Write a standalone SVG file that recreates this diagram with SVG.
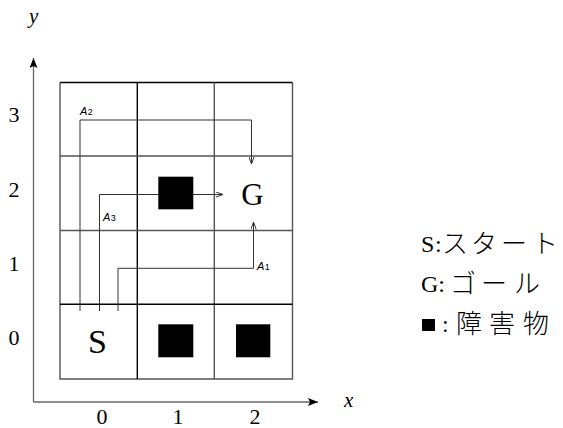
<svg xmlns="http://www.w3.org/2000/svg" width="563" height="428" viewBox="0 0 563 428">
<style>
.ser{font-family:"Liberation Serif","Times New Roman",serif;fill:#000}
.num{font-size:22px;text-anchor:middle}
.ital{font-style:italic}
.lbl{font-family:"Liberation Sans",Arial,sans-serif;font-style:italic;font-size:11px;fill:#000}
.sub{font-style:normal;font-size:9px}
.lat{font-family:"Liberation Serif","Times New Roman",serif;font-size:24px;fill:#000}
.jp{font-family:"Noto Sans CJK JP",sans-serif;font-size:26px;font-weight:300;fill:#000}
.g1{stroke:#000;stroke-width:1.4;fill:none}
.g2{stroke:#555;stroke-width:1.4;fill:none}
.axis{stroke:#666;stroke-width:1.3;fill:none}
.path{stroke:#333;stroke-width:1;fill:none}
.obs{fill:#000}
</style>
<defs>
<marker id="ah" viewBox="0 0 8 6" refX="7.5" refY="3" markerWidth="8" markerHeight="6" markerUnits="userSpaceOnUse" orient="auto">
<path d="M0,0.3 L7.5,3 L0,5.7" fill="none" stroke="#333" stroke-width="1"/>
</marker>
<marker id="axh" viewBox="0 0 10 8" refX="10" refY="4" markerWidth="10" markerHeight="8" markerUnits="userSpaceOnUse" orient="auto">
<path d="M0,0 L10,4 L0,8 L2,4 Z" fill="#000"/>
</marker>
</defs>

<g id="axes">
<path class="axis" d="M33.5,402 V58" marker-end="url(#axh)"/>
<path class="axis" d="M33.5,402 H318" marker-end="url(#axh)"/>
<text class="ser ital" x="29" y="23" font-size="21">y</text>
<text class="ser ital" x="344" y="407" font-size="21">x</text>
<text class="ser num" x="14" y="122">3</text>
<text class="ser num" x="14" y="197">2</text>
<text class="ser num" x="14" y="271">1</text>
<text class="ser num" x="14" y="345">0</text>
<text class="ser num" x="102" y="424">0</text>
<text class="ser num" x="178" y="424">1</text>
<text class="ser num" x="255" y="424">2</text>
</g>

<g id="grid">
<path class="g2" d="M60,82.5 V379 H292.5 V82.5"/>
<path class="g1" d="M60,82.5 H292.5"/>
<path class="g1" d="M137.3,82.5 V379"/>
<path class="g2" d="M214.3,82.5 V379"/>
<path class="g2" d="M60,156 H292.5"/>
<path class="g2" d="M60,230.5 H292.5"/>
<path class="g1" d="M60,304.3 H292.5"/>
</g>

<g id="connectors">
<path class="path" d="M80,311 V120 H251.5 V164" marker-end="url(#ah)"/>
<path class="path" d="M99.5,311 V194.5 H223" marker-end="url(#ah)"/>
<path class="path" d="M118,311 V268.3 H253.5 V222" marker-end="url(#ah)"/>
<text class="lbl" x="80" y="115">A<tspan class="sub" dx="0.5">2</tspan></text>
<text class="lbl" x="103" y="221">A<tspan class="sub" dx="0.5">3</tspan></text>
<text class="lbl" x="257" y="270">A<tspan class="sub" dx="0.5">1</tspan></text>
</g>

<g id="obstacle-1-2"><rect class="obs" x="158.3" y="176.7" width="35" height="32.6"/></g>
<g id="obstacle-1-0"><rect class="obs" x="158.3" y="324.3" width="35" height="33"/></g>
<g id="obstacle-2-0"><rect class="obs" x="236" y="324.3" width="34.3" height="33"/></g>

<g id="start"><text class="ser" x="97.5" y="353" font-size="34" text-anchor="middle">S</text></g>
<g id="goal"><text class="ser" x="252.5" y="205" font-size="31" text-anchor="middle">G</text></g>

<g id="legend">
<text class="lat" y="252"><tspan x="421">S</tspan><tspan x="435">:</tspan></text>
<text class="jp" y="253"><tspan x="442">ス</tspan><tspan x="471">タ</tspan><tspan x="501">ー</tspan><tspan x="532">ト</tspan></text>
<text class="lat" x="421" y="292">G:</text>
<text class="jp" y="293"><tspan x="450">ゴ</tspan><tspan x="481">ー</tspan><tspan x="514">ル</tspan></text>
<rect class="obs" x="422" y="319" width="13" height="12"/>
<text class="lat" x="442" y="332">:</text>
<text class="jp" y="333"><tspan x="456">障</tspan><tspan x="489">害</tspan><tspan x="523">物</tspan></text>
</g>
</svg>
